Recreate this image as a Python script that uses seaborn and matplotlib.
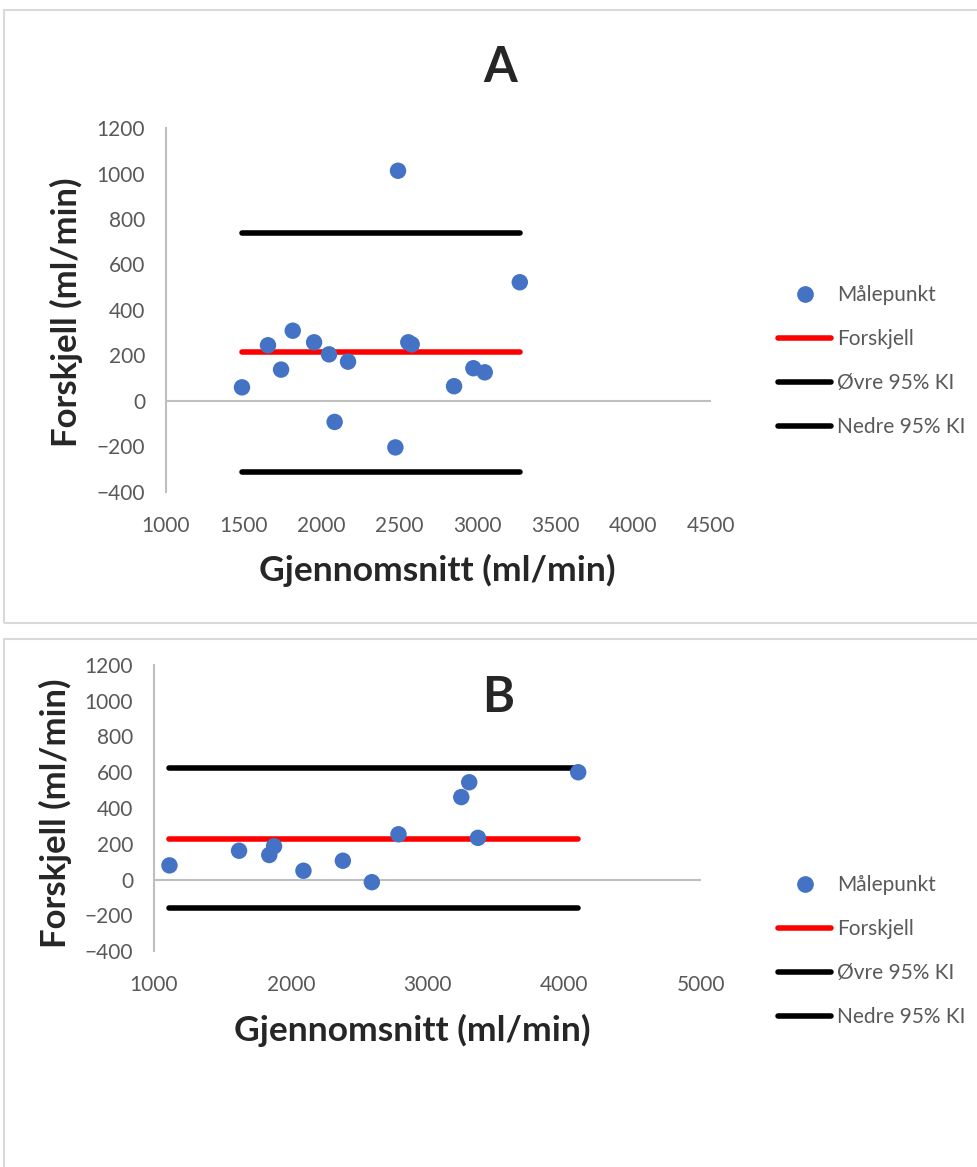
import numpy as np
import matplotlib
matplotlib.use("Agg")
import matplotlib.pyplot as plt
import seaborn as sb
import pandas as pd
from matplotlib.lines import Line2D
from matplotlib.patches import Rectangle

# panel A data
mean_a = [1488, 1655, 1739, 1814, 1951, 2047, 2169, 2083, 2490, 2473, 2556, 2578, 2850, 2974, 3047, 3272]
diff_a = [60, 245, 138, 309, 258, 205, 173, -92, 1012, -204, 258, 249, 65, 144, 126, 522]
bias_a = 214
upper_a = 740
lower_a = -312

# panel B data
mean_b = [1113, 1622, 1843, 1878, 2093, 2381, 2593, 2788, 3247, 3305, 3369, 4102]
diff_b = [79, 161, 137, 186, 49, 105, -15, 253, 461, 544, 233, 600]
bias_b = 229
upper_b = 621
lower_b = -159

yticks = [-400, -200, 0, 200, 400, 600, 800, 1000, 1200]
xticks_a = [1000, 1500, 2000, 2500, 3000, 3500, 4000, 4500]
xticks_b = [1000, 2000, 3000, 4000, 5000]

sb.set_style("white")
plt.rcParams['font.family'] = ['Lato', 'DejaVu Sans']

W, H = 978, 1167
fig = plt.figure(figsize=(W / 100, H / 100), dpi=100)

# panel frames
fig.patches.append(Rectangle((4 / W, 1 - 623 / H), 1.0, 613 / H, transform=fig.transFigure,
                             fill=False, edgecolor='#d9d9d9', linewidth=1.5))
fig.patches.append(Rectangle((4 / W, -0.01), 1.0, 1 - 639 / H + 0.01, transform=fig.transFigure,
                             fill=False, edgecolor='#d9d9d9', linewidth=1.5))

grey = '#595959'
blue = '#4472c4'


def bland_altman(ax, x, y, bias, upper, lower, xticks):
    df = pd.DataFrame({'x': x, 'y': y})
    xs = [min(x), max(x)]
    sb.lineplot(x=xs, y=[upper, upper], color='black', lw=4, ax=ax, solid_capstyle='round')
    sb.lineplot(x=xs, y=[lower, lower], color='black', lw=4, ax=ax, solid_capstyle='round')
    sb.lineplot(x=xs, y=[bias, bias], color='#ff0000', lw=4, ax=ax, solid_capstyle='round')
    sb.scatterplot(data=df, x='x', y='y', color=blue, s=140, edgecolor='none', ax=ax, zorder=5)
    ax.axhline(0, color='#bfbfbf', lw=1.5, zorder=1)
    ax.set_xlim(xticks[0], xticks[-1])
    ax.set_ylim(-400, 1200)
    ax.set_xticks(xticks)
    ax.set_yticks(yticks)
    ax.set_xlabel('')
    ax.set_ylabel('')
    for s in ['top', 'right', 'bottom']:
        ax.spines[s].set_visible(False)
    ax.spines['left'].set_color('#bfbfbf')
    ax.spines['left'].set_linewidth(1.5)
    ax.tick_params(length=0, labelsize=15, colors=grey)
    ax.tick_params(axis='y', pad=15)
    ax.tick_params(axis='x', pad=17)
    ax.patch.set_alpha(0)


def add_legend(ax, x0, y0):
    handles = [
        Line2D([], [], marker='o', color=blue, linestyle='none', markersize=11),
        Line2D([], [], color='#ff0000', lw=4),
        Line2D([], [], color='black', lw=4),
        Line2D([], [], color='black', lw=4),
    ]
    labels = ['Målepunkt', 'Forskjell', 'Øvre 95% KI', 'Nedre 95% KI']
    leg = ax.legend(handles, labels, loc='upper left', bbox_to_anchor=(x0 / W, 1 - y0 / H),
                    bbox_transform=fig.transFigure, frameon=False, fontsize=15,
                    handlelength=2.55, handletextpad=0.25, labelspacing=1.15, borderaxespad=0)
    for t in leg.get_texts():
        t.set_color(grey)


ax1 = fig.add_axes([166 / W, 1 - 492 / H, 545 / W, 364 / H])
bland_altman(ax1, mean_a, diff_a, bias_a, upper_a, lower_a, xticks_a)
add_legend(ax1, 770, 277)

ax2 = fig.add_axes([154 / W, 1 - 951 / H, 547 / W, 286 / H])
bland_altman(ax2, mean_b, diff_b, bias_b, upper_b, lower_b, xticks_b)
add_legend(ax2, 770, 867)

# titles and axis labels
fig.text(500 / W, 1 - 68 / H, 'A', fontsize=35, fontweight='bold', ha='center', va='center')
fig.text(498 / W, 1 - 697 / H, 'B', fontsize=35, fontweight='bold', ha='center', va='center')
fig.text(66 / W, 1 - 312 / H, 'Forskjell (ml/min)', fontsize=25, fontweight='bold',
         rotation=90, ha='center', va='center')
fig.text(55 / W, 1 - 813 / H, 'Forskjell (ml/min)', fontsize=25, fontweight='bold',
         rotation=90, ha='center', va='center')
fig.text(437 / W, 1 - 570 / H, 'Gjennomsnitt (ml/min)', fontsize=25.5, fontweight='bold',
         ha='center', va='center')
fig.text(412 / W, 1 - 1030 / H, 'Gjennomsnitt (ml/min)', fontsize=25.5, fontweight='bold',
         ha='center', va='center')

fig.savefig('out.png', dpi=100)
